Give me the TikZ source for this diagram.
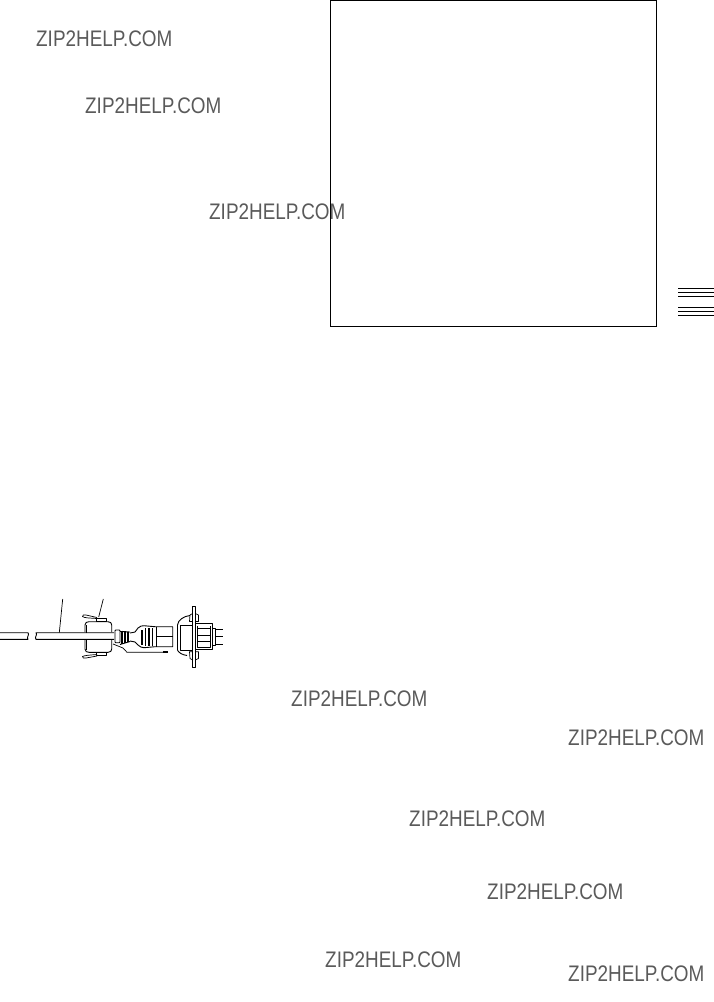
\documentclass[tikz,border=0pt]{standalone}
\usepackage{fontspec}
\newfontfamily\wmfont[FakeStretch=0.84]{Liberation Sans}
\tikzset{
  wm/.style={anchor=base west,inner sep=0pt,text=wmgray,font=\wmfont\fontsize{22.5}{24}\selectfont},
  ink/.style={draw=black,line width=0.9pt,line join=round},
  fine/.style={draw=black,line width=0.7pt,line join=round},
  lead/.style={draw=black,line width=0.7pt}
}
\definecolor{wmgray}{HTML}{5A5A5A}
\begin{document}
\begin{tikzpicture}[x=1pt,y=-1pt]
\useasboundingbox (0,0) rectangle (714,1002);
% watermarks
\node[wm] (w1) at (36,46.5) {ZIP2HELP.COM};
\node[wm] (w2) at (85,113.5) {ZIP2HELP.COM};
\node[wm] (w3) at (209,219.5) {ZIP2HELP.COM};
\node[wm] (w4) at (291,706.5) {ZIP2HELP.COM};
\node[wm] (w5) at (568,745.5) {ZIP2HELP.COM};
\node[wm] (w6) at (409,826.5) {ZIP2HELP.COM};
\node[wm] (w7) at (487,899.5) {ZIP2HELP.COM};
\node[wm] (w8) at (325,967.5) {ZIP2HELP.COM};
\node[wm] (w9) at (568,981.5) {ZIP2HELP.COM};
% frame
\draw[draw=black,line width=1pt] (330.5,0.5) rectangle (656.5,326);
% thumb-index lines
\foreach \yy in {288.3,292,296.3,307.3,311.7,315.3}
  \draw[draw=black,line width=1pt] (678,\yy) -- (714,\yy);
% cable
\draw[ink] (0,632.7) -- (28,632.7) .. controls (30,634.5) and (26,637.5) .. (28,639.3) -- (0,639.3);
\draw[ink] (114,632.7) -- (36,632.7) .. controls (38,634.5) and (34,637.5) .. (36,639.3) -- (114,639.3);
% leaders
\draw[lead] (62.7,599) -- (59.3,632.7);
\draw[lead] (103.3,599) -- (98.7,617);
% clamp
\draw[ink] (85,632) -- (85,625) .. controls (85,622.5) and (87,621.7) .. (89,621.7) -- (108,621.7) .. controls (110.5,621.7) and (111.7,623) .. (111.7,625) -- (111.7,632);
\draw[ink] (85,640) -- (85,649) .. controls (85,651.5) and (87,652.3) .. (89,652.3) -- (108,652.3) .. controls (110.5,652.3) and (111.7,651) .. (111.7,649) -- (111.7,640);
\draw[line width=1.4pt] (86.5,625) -- (86.5,632.5) (86.5,640) -- (86.5,650);
% clamp ears
\draw[fine] (97,618.5) .. controls (90,618) and (84,618) .. (82.5,616.5) .. controls (82,615) and (84,614.5) .. (86,615) -- (97,617.5);
\draw[fine] (96,618.5) rectangle (106,621.5);
\draw[fine] (97,654.5) .. controls (90,655) and (84,655.5) .. (82.5,656.5) .. controls (82,658) and (84,658.5) .. (86,658) -- (97,656);
\draw[fine] (96,652.5) rectangle (106,655.5);
% grommet flange
\draw[ink,fill=white,rounded corners=0.8pt] (115,630) rectangle (120,642.7);
% strain-relief ribs
\draw[ink] (120,631.5) -- (130,632) (120,644.5) -- (130,641.5);
\foreach \xx/\ha in {122/6.5,125/6,128/5}
  \draw[line width=1.6pt] (\xx,637-\ha) -- (\xx,637+\ha);
% plug body
\draw[ink] (130,633) -- (135,632) -- (138,628) .. controls (140,626) and (142,625.7) .. (144,625.7) -- (155,626.7) -- (172.7,626.7) -- (172.7,646.7) -- (155,646.7) -- (144,647.7) .. controls (142,647.7) and (140,647) .. (138,645) -- (135,642) -- (130,641);
\draw[line width=1.6pt] (142,630) -- (142,645) (145.5,628) -- (145.5,646) (149,628) -- (149,646) (152.5,628) -- (152.5,646);
\draw[ink] (156,626.7) -- (156,646.7) (156,636.7) -- (172.7,636.7);
% ground wire
\draw[fine] (113,644) -- (123,648) -- (127,652.3) -- (163,652.3);
\draw[line width=2pt] (163,652.3) -- (168,652.3);
% receptacle shell
\draw[ink] (190,615.5) .. controls (184,616) and (178,620) .. (177.5,625) -- (177.5,650) .. controls (178,652) and (182,655) .. (187,655.5);
\draw[fine] (180,625) -- (192.7,625) (180,625) -- (180,650) -- (192.7,650);
% flange
\draw[ink] (192.7,606.7) rectangle (195.3,667.7);
\draw[fine] (192.7,613.5) -- (190,615) -- (189.5,621.5) -- (192.7,621.5) (195.3,613.5) -- (198.5,615) -- (198.5,621.5) -- (195.3,621.5);
\draw[fine] (192.7,651.7) -- (189.5,651.7) -- (190,658.5) -- (192.7,660) (195.3,651.7) -- (198.5,651.7) -- (198.5,658.5) -- (195.3,660);
% terminal block
\draw[ink] (195.3,623.3) -- (212.7,623.3) -- (212.7,649.5) -- (195.3,649.5);
\draw[fine] (212.7,628.3) -- (215,628.3) -- (215,645.5) -- (212.7,645.5);
\draw[line width=1pt] (197,628.3) -- (210,628.3) (197,635) -- (210,635) (197,641.7) -- (210,641.7);
\draw[fine] (197,625.5) -- (197,647) -- (210,647) -- (210,625.5);
\draw[line width=1pt] (215,629.3) -- (222.7,629.3) (215,636.7) -- (222.7,636.7) (215,644.3) -- (222.7,644.3);
\end{tikzpicture}
\end{document}
